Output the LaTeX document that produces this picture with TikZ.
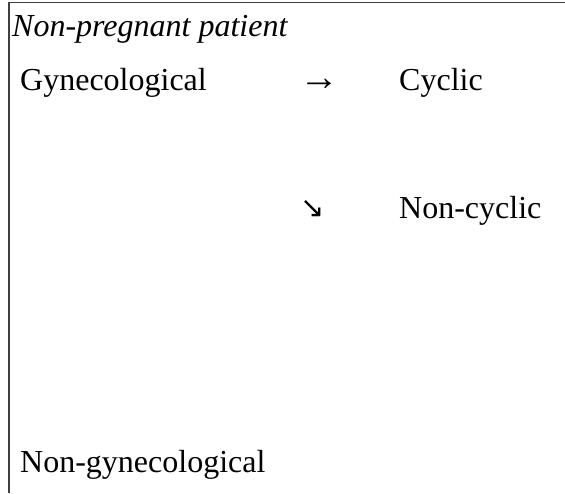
\documentclass[tikz,border=0pt]{standalone}
\usepackage{fontspec}
\setmainfont{Liberation Serif}
\newfontfamily\arrowfont{DejaVu Sans}

\begin{document}
\begin{tikzpicture}[x=1pt, y=-1pt,
        label/.style={anchor=base west, inner sep=0pt, font=\fontsize{32}{36}\selectfont},
        frameline/.style={draw=black!75, line width=1.3pt}]
        \useasboundingbox (0,0) rectangle (565,493);

        % Draw frame (top and left sides only)
        \coordinate (cornerTL) at (9,2.5);
        \coordinate (cornerTR) at (565,2.5);
        \coordinate (cornerBL) at (9,493);
        \draw[frameline] (cornerTR) -- (cornerTL) -- (cornerBL);

        % Draw labels
        \node[label, font=\fontsize{32}{36}\selectfont\itshape] (title) at (12, 36) {Non-pregnant patient};
        \node[label] (gyn) at (20, 90) {Gynecological};
        \node[label, font=\fontsize{40}{44}\selectfont] (arrowright) at (299, 90) {→};
        \node[label] (cyclic) at (399, 90) {Cyclic};
        \node[label, font=\fontsize{29}{32}\arrowfont] (arrowdown) at (300, 217) {↘};
        \node[label] (noncyclic) at (399, 218) {Non-cyclic};
        \node[label] (nongyn) at (20, 472) {Non-gynecological};
    \end{tikzpicture}
\end{document}
